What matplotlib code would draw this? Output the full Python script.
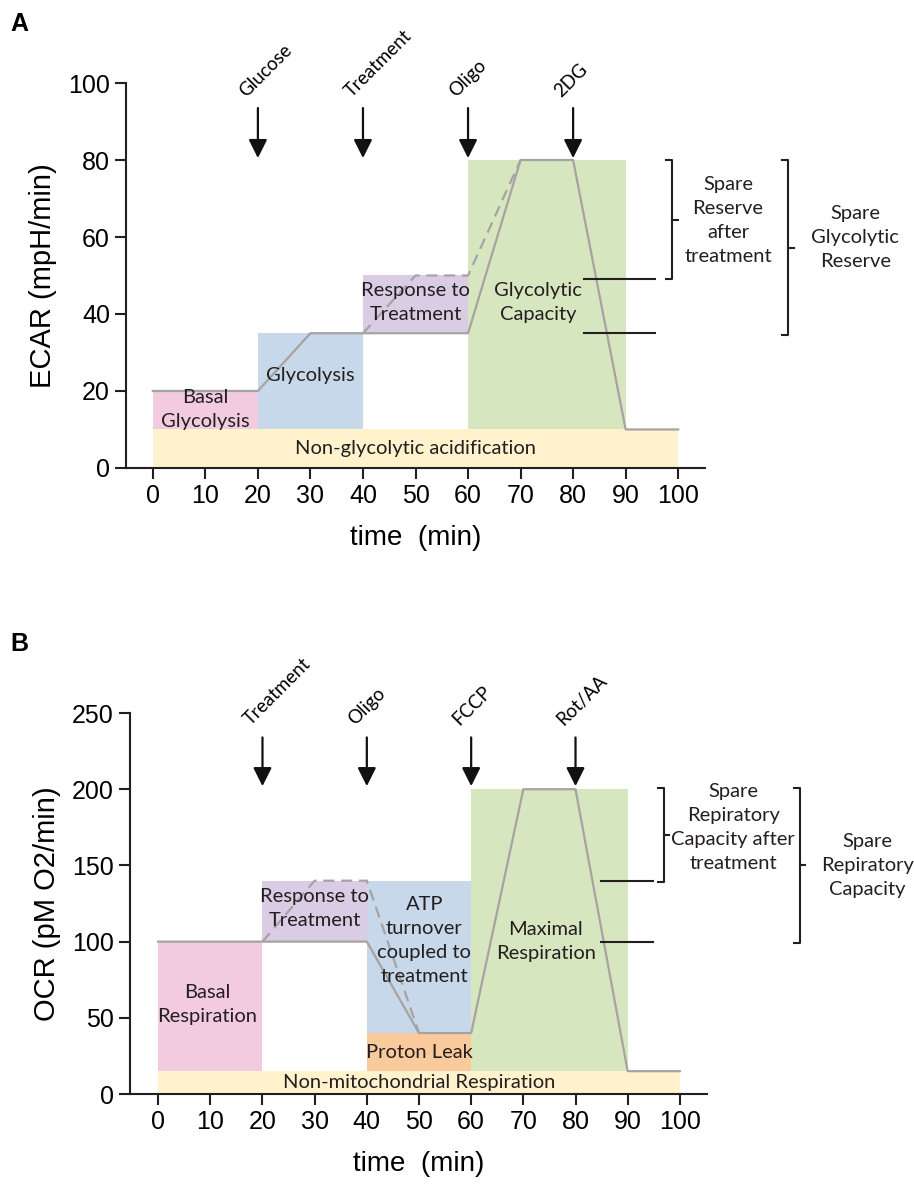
import numpy as np
import matplotlib.pyplot as plt

# ---- Panel A data (ECAR) ----
ecar_t = [0, 20, 30, 60, 70, 80, 90, 100]
ecar_v = [20, 20, 35, 35, 80, 80, 10, 10]
ecar_dash_t = [40, 50, 60, 70]
ecar_dash_v = [35, 50, 50, 80]
# (x0, x1, y0, y1, colour)
ecar_regions = [
    (0, 100, 0, 10, '#fff2cc'),
    (0, 20, 10, 20, '#f2cbe0'),
    (20, 40, 10, 35, '#c6d8ea'),
    (40, 60, 35, 50, '#d9cce4'),
    (60, 90, 10, 80, '#d6e6bf'),
]
ecar_injections = [20, 40, 60, 80]
ecar_inj_names = ['Glucose', 'Treatment', 'Oligo', '2DG']
ecar_marks = [49, 35]

# ---- Panel B data (OCR) ----
ocr_t = [0, 20, 40, 50, 60, 70, 80, 90, 100]
ocr_v = [100, 100, 100, 40, 40, 200, 200, 15, 15]
ocr_dash_t = [20, 30, 40, 50]
ocr_dash_v = [100, 140, 140, 40]
ocr_regions = [
    (0, 100, 0, 15, '#fff2cc'),
    (0, 20, 15, 100, '#f2cbe0'),
    (20, 40, 100, 140, '#d9cce4'),
    (40, 60, 40, 140, '#c6d8ea'),
    (40, 60, 15, 40, '#f9cb9c'),
    (60, 90, 15, 200, '#d6e6bf'),
]
ocr_injections = [20, 40, 60, 80]
ocr_inj_names = ['Treatment', 'Oligo', 'FCCP', 'Rot/AA']
ocr_marks = [140, 100]

LINE = '#a8a2a2'
LABEL_FONT = 'Lato'
plt.rcParams['font.family'] = ['Liberation Sans', 'DejaVu Sans']

fig = plt.figure(figsize=(9.14, 11.88), dpi=100)
axA = fig.add_axes([0.1379, 0.6061, 0.6334, 0.3240])
axB = fig.add_axes([0.1422, 0.0791, 0.6313, 0.3207])


def style_axes(ax, xlim, ylim, yticks, ylabel):
    ax.set_xlim(*xlim)
    ax.set_ylim(*ylim)
    ax.set_xticks(np.arange(0, 101, 10))
    ax.set_yticks(yticks)
    for s in ['top', 'right']:
        ax.spines[s].set_visible(False)
    for s in ['left', 'bottom']:
        ax.spines[s].set_linewidth(1.5)
        ax.spines[s].set_color('#231f20')
    ax.tick_params(length=8, width=1.5, labelsize=18, color='#231f20')
    ax.set_xlabel('time  (min)', fontsize=20, labelpad=12)
    ax.set_ylabel(ylabel, fontsize=21, labelpad=8)


def draw_bracket(ax, x, y0, y1):
    ym = (y0 + y1) / 2
    kw = dict(color='#231f20', lw=1.5, clip_on=False)
    ax.plot([x - 1.2, x, x, x - 1.2], [y0, y0, y1, y1], **kw)
    ax.plot([x, x + 1.0], [ym, ym], **kw)


def draw_panel(ax, regions, t, v, dt, dv, inj, names, arrow_top, arrow_bot, lab_y):
    for x0, x1, y0, y1, c in regions:
        ax.fill_between([x0, x1], y0, y1, color=c, lw=0, zorder=1)
    ax.plot(dt, dv, color=LINE, lw=1.6, ls=(0, (5, 3)), zorder=3)
    ax.plot(t, v, color=LINE, lw=1.6, zorder=3)
    for x, name in zip(inj, names):
        ax.annotate('', xy=(x, arrow_bot), xytext=(x, arrow_top),
                    arrowprops=dict(arrowstyle='-|>', color='#111111', lw=1.6,
                                    mutation_scale=28, shrinkA=0, shrinkB=0),
                    annotation_clip=False)
        ax.text(x - 1.8, lab_y, name, rotation=45, rotation_mode='anchor',
                ha='left', va='bottom', fontsize=13.5, family=LABEL_FONT,
                clip_on=False)


# ---------- Panel A ----------
style_axes(axA, (-5.1, 105.1), (0, 100), [0, 20, 40, 60, 80, 100], 'ECAR (mpH/min)')
draw_panel(axA, ecar_regions, ecar_t, ecar_v, ecar_dash_t, ecar_dash_v,
           ecar_injections, ecar_inj_names, 93.5, 80.5, 95.5)
for y in ecar_marks:
    axA.plot([82, 95.6], [y, y], color='#231f20', lw=1.5, clip_on=False, zorder=4)
draw_bracket(axA, 98.9, 80, ecar_marks[0])
draw_bracket(axA, 121, 80, ecar_marks[1] - 0.5)

tk = dict(ha='center', va='center', fontsize=14.5, family=LABEL_FONT,
          color='#231f20', linespacing=1.5, zorder=5)
axA.text(9.9, 15.2, 'Basal\nGlycolysis', **tk)
axA.text(30, 24, 'Glycolysis', **tk)
axA.text(50, 43, 'Response to\nTreatment', **tk)
axA.text(73.3, 43, 'Glycolytic\nCapacity', **tk)
axA.text(50, 5, 'Non-glycolytic acidification', **tk)
axA.text(109.5, 64.4, 'Spare\nReserve\nafter\ntreatment', clip_on=False, **tk)
axA.text(133.7, 60, 'Spare\nGlycolytic\nReserve', clip_on=False, **tk)

# ---------- Panel B ----------
style_axes(axB, (-5.4, 105.2), (0, 250), [0, 50, 100, 150, 200, 250], 'OCR (pM O2/min)')
draw_panel(axB, ocr_regions, ocr_t, ocr_v, ocr_dash_t, ocr_dash_v,
           ocr_injections, ocr_inj_names, 234, 202, 240)
for y in ocr_marks:
    axB.plot([84.9, 94.8], [y, y], color='#231f20', lw=1.5, clip_on=False, zorder=4)
draw_bracket(axB, 97, 201, ocr_marks[0] - 1)
draw_bracket(axB, 123, 201, ocr_marks[1] - 1)

axB.text(9.4, 59, 'Basal\nRespiration', **tk)
axB.text(30, 122, 'Response to\nTreatment', **tk)
axB.text(51, 101, 'ATP\nturnover\ncoupled to\ntreatment', **tk)
axB.text(74.3, 100, 'Maximal\nRespiration', **tk)
axB.text(50, 27.5, 'Proton Leak', **tk)
axB.text(50, 7.5, 'Non-mitochondrial Respiration', **tk)
axB.text(110.2, 175, 'Spare\nRepiratory\nCapacity after\ntreatment', clip_on=False, **tk)
axB.text(136.0, 150, 'Spare\nRepiratory\nCapacity', clip_on=False, **tk)

fig.text(0.011, 0.99, 'A', fontsize=18, fontweight='bold', va='top')
fig.text(0.011, 0.468, 'B', fontsize=18, fontweight='bold', va='top')

fig.savefig('out.png', dpi=100)
